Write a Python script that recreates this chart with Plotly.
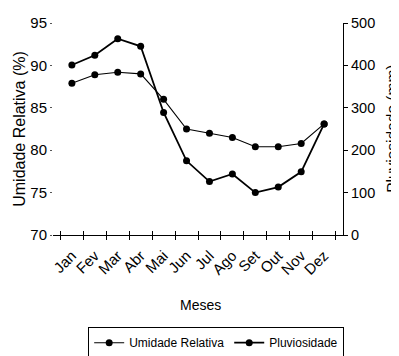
import plotly.graph_objects as go

meses = ["Jan", "Fev", "Mar", "Abr", "Mai", "Jun", "Jul", "Ago", "Set", "Out", "Nov", "Dez"]
umidade = [87.9, 88.9, 89.2, 89.0, 86.0, 82.5, 82.0, 81.5, 80.4, 80.4, 80.8, 83.1]
pluviosidade = [401, 424, 463, 445, 289, 175, 126, 144, 100, 113, 149, 262]

FONT = "Arial, Liberation Sans, sans-serif"

fig = go.Figure()
fig.add_trace(go.Scatter(
    x=meses, y=umidade, name="Umidade Relativa", mode="lines+markers",
    line=dict(color="black", width=1.1), marker=dict(color="black", size=7),
    xaxis="x", yaxis="y"))
fig.add_trace(go.Scatter(
    x=meses, y=pluviosidade, name="Pluviosidade", mode="lines+markers",
    line=dict(color="black", width=1.8), marker=dict(color="black", size=7),
    xaxis="x", yaxis="y2"))
# invisible helper trace for inward x ticks
fig.add_trace(go.Scatter(
    x=meses, y=umidade, mode="markers", marker=dict(opacity=0),
    showlegend=False, hoverinfo="skip", xaxis="x2", yaxis="y"))

# page body has an 8px margin, so the figure is drawn 8px smaller and offset
fig.update_layout(
    width=391, height=348,
    margin=dict(l=45, r=56, t=15, b=121, autoexpand=False),
    paper_bgcolor="white", plot_bgcolor="white",
    font=dict(family=FONT, color="black", size=14),
    showlegend=True,
    legend=dict(orientation="h", x=0.562, xanchor="center", y=-0.434, yanchor="top",
                bordercolor="black", borderwidth=1.2, font=dict(size=12),
                itemwidth=30, tracegroupgap=0),
    xaxis=dict(type="category", categoryorder="array", categoryarray=meses,
               tickson="boundaries", ticks="outside", ticklen=4, tickwidth=1,
               tickcolor="black", showline=True, linecolor="black", linewidth=1.2,
               showgrid=False, zeroline=False, tickangle=-45,
               ticklabelstandoff=5,
               tickfont=dict(size=15), automargin=False),
    xaxis2=dict(type="category", categoryorder="array", categoryarray=meses,
                overlaying="x", anchor="y", side="bottom", matches="x",
                tickson="boundaries", ticks="inside", ticklen=4, tickwidth=1,
                tickcolor="black", showticklabels=False, showline=False,
                showgrid=False, zeroline=False),
    yaxis=dict(range=[70, 95], tickvals=[70, 75, 80, 85, 90, 95],
               ticks="outside", ticklen=2, tickcolor="#555",
               showline=False, showgrid=False, zeroline=False,
               tickfont=dict(size=15), automargin=False),
    yaxis2=dict(range=[0, 500], tickvals=[0, 100, 200, 300, 400, 500],
                overlaying="y", side="right", anchor="x",
                ticks="outside", ticklen=4, tickcolor="black", tickwidth=1,
                showline=True, linecolor="black", linewidth=1.2,
                showgrid=False, zeroline=False,
                tickfont=dict(size=14.5), automargin=False),
    annotations=[
        dict(text="Umidade Relativa (%)", xref="paper", yref="paper",
             x=-0.118, y=0.5, xanchor="center", yanchor="middle",
             textangle=-90, showarrow=False, font=dict(size=16)),
        dict(text="Pluviosidade (mm)", xref="paper", yref="paper",
             x=1.165, y=0.5, xanchor="center", yanchor="middle",
             textangle=-90, showarrow=False, font=dict(size=15.5)),
        dict(text="Meses", xref="paper", yref="paper",
             x=0.507, y=-0.33, xanchor="center", yanchor="middle",
             showarrow=False, font=dict(size=14)),
    ],
)

fig.write_html("out.html")
